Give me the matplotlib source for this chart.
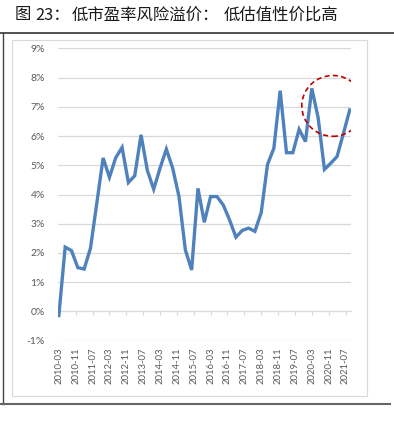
import matplotlib
matplotlib.use("Agg")
import matplotlib.pyplot as plt
from matplotlib.patches import Ellipse
from matplotlib.lines import Line2D

plt.rcParams['font.family'] = ['Lato', 'Noto Sans CJK SC', 'DejaVu Sans']
plt.rcParams['axes.unicode_minus'] = False

# title pieces and their left edge in pixels
title_parts = ["图", "23：", "低市盈率风险溢价：", "低估值性价比高"]
title_x = [15, 35, 72, 224]

# quarterly values (%), 2010-03 .. 2021-09
premium = [-0.14, 2.20, 2.08, 1.50, 1.45, 2.16, 3.70, 5.25, 4.59, 5.26,
           5.61, 4.41, 4.64, 6.04, 4.82, 4.18, 4.90, 5.55, 4.90, 3.93,
           2.11, 1.42, 4.21, 3.05, 3.93, 3.93, 3.64, 3.13, 2.54, 2.77,
           2.85, 2.74, 3.38, 5.03, 5.58, 7.55, 5.43, 5.43, 6.23, 5.81,
           7.63, 6.63, 4.86, 5.07, 5.30, 6.09, 6.89]
months = [3 * i for i in range(len(premium))]  # months since 2010-03

tick_labels = ["2010-03", "2010-11", "2011-07", "2012-03", "2012-11", "2013-07",
               "2014-03", "2014-11", "2015-07", "2016-03", "2016-11", "2017-07",
               "2018-03", "2018-11", "2019-07", "2020-03", "2020-11", "2021-07"]
tick_pos = [8 * i for i in range(len(tick_labels))]

W, H = 394, 434
fig = plt.figure(figsize=(W / 100, H / 100), dpi=100)

# title and frame lines
for part, x in zip(title_parts, title_x):
    fig.text(x / W, 1 - 15 / H, part, fontsize=11.8, color="#1a1a1a",
             family=['Noto Sans CJK SC', 'DejaVu Sans'], va="center", ha="left")
fig.add_artist(Line2D([0, 1], [1 - 33 / H, 1 - 33 / H], color="#444444", lw=1.3))
fig.add_artist(Line2D([3 / W, 3 / W], [1 - 33 / H, 1 - 404 / H], color="#444444", lw=1.0))
fig.add_artist(Line2D([0, 390 / W], [1 - 404 / H, 1 - 404 / H], color="#666666", lw=1.5))
# light chart-area border
fig.add_artist(plt.Rectangle((12 / W, 1 - 396 / H), (367 - 12) / W, (396 - 40) / H,
                             fill=False, edgecolor="#d9d9d9", lw=0.8))

ax = fig.add_axes([58 / W, 1 - 340.7 / H, (351 - 58) / W, (340.7 - 48.3) / H])
ax.plot(months, premium, color="#4f81bd", lw=2.4, solid_joinstyle="miter", zorder=3)

ax.set_ylim(-1, 9)
ax.set_xlim(-0.4, 138.6)
ax.set_yticks(range(-1, 10))
ax.set_yticklabels([f"{v}%" for v in range(-1, 10)])
ax.grid(axis="y", color="#d9d9d9", lw=0.9)
ax.set_axisbelow(True)
for s in ["top", "right", "left"]:
    ax.spines[s].set_visible(False)
ax.spines["bottom"].set_position(("data", 0))
ax.spines["bottom"].set_color("#d9d9d9")
ax.set_xticks(tick_pos)
ax.tick_params(axis="x", direction="out", length=3, color="#d9d9d9", labelbottom=False)
ax.tick_params(axis="y", length=0, pad=9.5, labelsize=7.5, labelcolor="#595959")

sec = ax.secondary_xaxis(0)
sec.set_xticks(tick_pos)
sec.set_xticklabels(tick_labels, rotation=90)
sec.tick_params(length=0, pad=5, labelsize=6.8, labelcolor="#595959")
sec.spines["bottom"].set_visible(False)

# highlight circle
ax.add_patch(Ellipse((130, 7.03), 29.5, 2.08, fill=False, edgecolor="#c00000",
                     lw=1.2, ls=(0, (3, 2)), zorder=4))

fig.savefig("out.png", dpi=100)
